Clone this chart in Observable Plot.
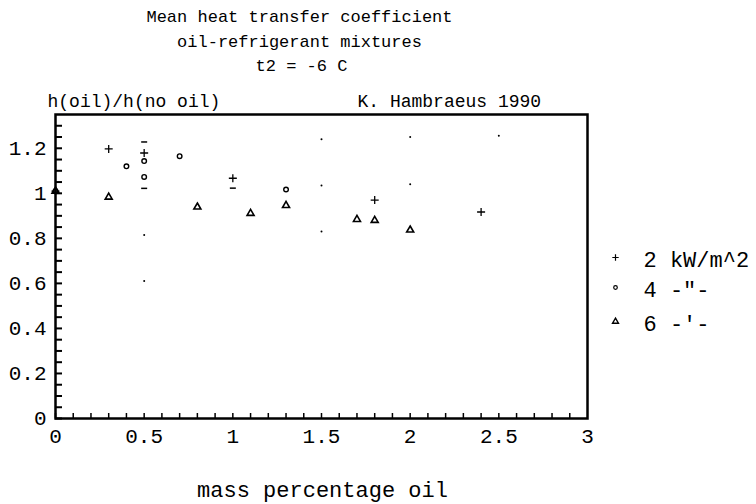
<!DOCTYPE html>
<html>
<head>
<meta charset="utf-8">
<script src="https://cdn.jsdelivr.net/npm/d3@7"></script>
<script src="https://cdn.jsdelivr.net/npm/@observablehq/plot@0.6"></script>
<style>
  html, body { margin: 0; padding: 0; background: #fff; }
</style>
</head>
<body>
<div id="chart"></div>
<script>
// ---- data ----
const plusX = [0, 0.3, 0.5, 1.0, 1.8, 2.4];
const plusY = [1.01, 1.197, 1.179, 1.067, 0.970, 0.917];

const circleX = [0, 0.4, 0.5, 0.5, 0.7, 1.3];
const circleY = [1.01, 1.12, 1.143, 1.073, 1.165, 1.017];

const triX = [0, 0.3, 0.8, 1.1, 1.3, 1.7, 1.8, 2.0];
const triY = [1.01, 0.983, 0.939, 0.911, 0.946, 0.884, 0.880, 0.837];

const dashX = [0.5, 0.5, 1.0];
const dashY = [1.228, 1.022, 1.023];

const dotX = [0.5, 0.5, 1.5, 1.5, 1.5, 2.0, 2.0, 2.5];
const dotY = [0.815, 0.611, 1.24, 1.035, 0.83, 1.25, 1.04, 1.256];

const xTickLabels = [0, 0.5, 1, 1.5, 2, 2.5, 3];
const yTickLabels = [0, 0.2, 0.4, 0.6, 0.8, 1, 1.2];
const xMinorTicks = d3.range(0, 30).map(i => i / 10);
const yMinorTicks = d3.range(0, 27).map(i => i / 20);

const titleLines = ["Mean heat transfer coefficient", "oil-refrigerant mixtures", "t2 = -6 C"];
const yLabel = "h(oil)/h(no oil)";
const author = "K. Hambraeus 1990";
const xLabel = "mass percentage oil";
const legendLabels = ["2 kW/m^2", "4 -\"-", "6 -'-"];

const pts = (xs, ys) => xs.map((x, i) => ({x, y: ys[i]}));

const W = 756, H = 504;
const mL = 55, mR = 169, mT = 114, mB = 86;
const fw = W - mL - mR, fh = H - mT - mB;

const dashSymbol = {
  draw(ctx, size) {
    const r = 3;
    ctx.moveTo(-r, 0); ctx.lineTo(r, 0);
  }
};

const fmt = d => String(+d.toFixed(1));
const FONT = "Liberation Mono, DejaVu Sans Mono, monospace";

const chart = Plot.plot({
  width: W,
  height: H,
  marginLeft: mL,
  marginRight: mR,
  marginTop: mT,
  marginBottom: mB,
  style: {fontFamily: FONT, fontSize: "17px", background: "#fff", color: "#000"},
  x: {domain: [0, 3]},
  y: {domain: [0, 1.35]},
  marks: [
    // inward minor ticks
    Plot.tickY(yMinorTicks, {y: d => d, insetRight: fw - 7, stroke: "#000", strokeWidth: 2}),
    Plot.tickX(xMinorTicks, {x: d => d, insetTop: fh - 5, stroke: "#000", strokeWidth: 1.5}),
    Plot.frame({stroke: "#000", strokeWidth: 2.5}),
    Plot.axisX({ticks: xTickLabels, tickSize: 0, tickPadding: 10, tickFormat: fmt, label: null, fontSize: 21}),
    Plot.axisY({ticks: yTickLabels, tickSize: 0, tickPadding: 9, tickFormat: fmt, label: null, fontSize: 21}),
    // data
    Plot.dot(pts(dotX, dotY), {x: "x", y: "y", r: 1, fill: "#000"}),
    Plot.dot(pts(dashX, dashY), {x: "x", y: "y", symbol: dashSymbol, stroke: "#000", strokeWidth: 1.5}),
    Plot.dot(pts(plusX, plusY), {x: "x", y: "y", symbol: "plus", r: 2.7, stroke: "#000", strokeWidth: 1.3}),
    Plot.dot(pts(circleX, circleY), {x: "x", y: "y", symbol: "circle", r: 2.3, stroke: "#000", strokeWidth: 1.4}),
    Plot.dot(pts(triX, triY), {x: "x", y: "y", symbol: "triangle", r: 2.6, stroke: "#000", strokeWidth: 1.6}),
    // titles
    Plot.text([titleLines[0]], {frameAnchor: "top", dx: -22, dy: -105, text: d => d, fontSize: 17}),
    Plot.text([titleLines[1]], {frameAnchor: "top", dx: -22, dy: -80, text: d => d, fontSize: 17}),
    Plot.text([titleLines[2]], {frameAnchor: "top", dx: -20, dy: -56, text: d => d, fontSize: 17}),
    Plot.text([yLabel], {frameAnchor: "top-left", dx: -8, dy: -20, textAnchor: "start", text: d => d, fontSize: 18}),
    Plot.text([author], {frameAnchor: "top-left", dx: 302, dy: -20, textAnchor: "start", text: d => d, fontSize: 18}),
    Plot.text([xLabel], {frameAnchor: "bottom", dx: 1, dy: 78, text: d => d, fontSize: 22}),
    // legend
    Plot.dot([0], {frameAnchor: "top-right", dx: 28, dy: 143, symbol: "plus", r: 2.2, stroke: "#000", strokeWidth: 1.2}),
    Plot.dot([0], {frameAnchor: "top-right", dx: 28, dy: 173, symbol: "circle", r: 1.8, stroke: "#000", strokeWidth: 1.2}),
    Plot.dot([0], {frameAnchor: "top-right", dx: 28, dy: 207, symbol: "triangle", r: 2.2, stroke: "#000", strokeWidth: 1.4}),
    Plot.text([legendLabels[0]], {frameAnchor: "top-right", dx: 56, dy: 137, textAnchor: "start", text: d => d, fontSize: 22}),
    Plot.text([legendLabels[1]], {frameAnchor: "top-right", dx: 56, dy: 167, textAnchor: "start", text: d => d, fontSize: 22}),
    Plot.text([legendLabels[2]], {frameAnchor: "top-right", dx: 56, dy: 201, textAnchor: "start", text: d => d, fontSize: 22})
  ]
});
document.getElementById("chart").appendChild(chart);
</script>
</body>
</html>
